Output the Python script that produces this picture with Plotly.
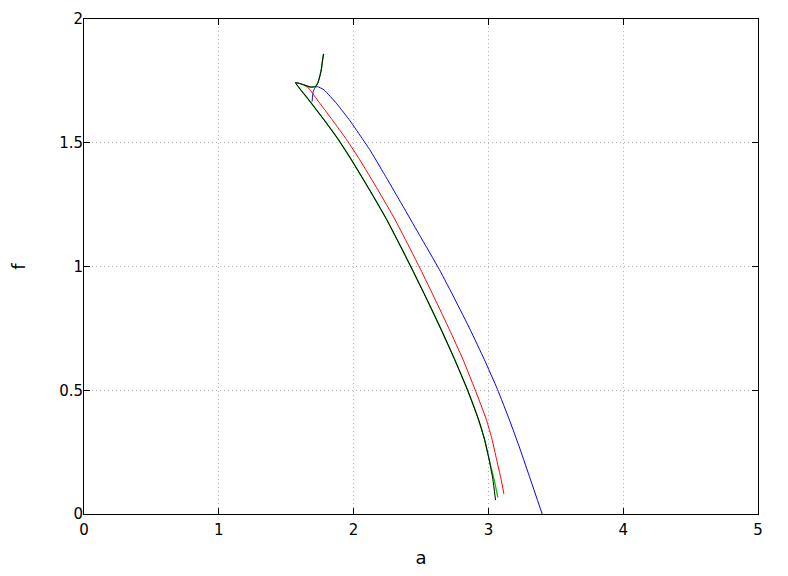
import plotly.graph_objects as go

# black curve (a, f)
black_a = [1.777, 1.768, 1.760, 1.748, 1.735, 1.718, 1.681, 1.631, 1.569,
           1.668, 1.780, 1.888, 1.984, 2.118, 2.245, 2.360, 2.435, 2.544,
           2.649, 2.749, 2.843, 2.926, 2.971, 3.005, 3.019, 3.033, 3.053]
black_f = [1.859, 1.827, 1.794, 1.766, 1.742, 1.727, 1.725, 1.734, 1.743,
           1.673, 1.593, 1.512, 1.431, 1.310, 1.190, 1.069, 0.988, 0.867,
           0.746, 0.625, 0.504, 0.383, 0.302, 0.222, 0.181, 0.141, 0.056]

# green curve (coincides with black, separates at the lower tail)
green_a = [1.777, 1.768, 1.760, 1.748, 1.735, 1.718, 1.681, 1.631, 1.569,
           1.668, 1.780, 1.888, 1.984, 2.118, 2.245, 2.360, 2.435, 2.544,
           2.649, 2.749, 2.843, 2.926, 2.971, 3.005, 3.023, 3.045, 3.070]
green_f = [1.859, 1.827, 1.794, 1.766, 1.742, 1.727, 1.725, 1.734, 1.743,
           1.673, 1.593, 1.512, 1.431, 1.310, 1.190, 1.069, 0.988, 0.867,
           0.746, 0.625, 0.504, 0.383, 0.302, 0.222, 0.181, 0.133, 0.067]

# red curve
red_a = [1.631, 1.668, 1.731, 1.841, 1.949, 2.046, 2.180, 2.307, 2.422,
         2.497, 2.605, 2.710, 2.811, 2.900, 2.984, 3.027, 3.060, 3.094, 3.115]
red_f = [1.734, 1.720, 1.673, 1.593, 1.512, 1.431, 1.310, 1.190, 1.069,
         0.988, 0.867, 0.746, 0.625, 0.504, 0.383, 0.302, 0.222, 0.141, 0.081]

# blue curve
blue_a = [1.692, 1.700, 1.713, 1.730, 1.780, 1.876, 1.973, 2.070, 2.120,
          2.230, 2.338, 2.487, 2.636, 2.752, 2.864, 2.969, 3.067, 3.154,
          3.235, 3.311, 3.399]
blue_f = [1.667, 1.706, 1.722, 1.727, 1.714, 1.657, 1.589, 1.512, 1.472,
          1.371, 1.270, 1.129, 0.988, 0.867, 0.746, 0.625, 0.504, 0.383,
          0.262, 0.141, 0.000]

x_ticks = [0, 1, 2, 3, 4, 5]
x_tick_labels = ["0", "1", "2", "3", "4", "5"]
y_ticks = [0, 0.5, 1, 1.5, 2]
y_tick_labels = ["0", "0.5", "1", "1.5", "2"]

fig = go.Figure()
line_common = dict(shape="spline", smoothing=0.4)
fig.add_trace(go.Scatter(x=blue_a, y=blue_f, mode="lines",
                         line=dict(color="#0000ff", width=1, **line_common)))
fig.add_trace(go.Scatter(x=red_a, y=red_f, mode="lines",
                         line=dict(color="#ff0000", width=1, **line_common)))
fig.add_trace(go.Scatter(x=green_a, y=green_f, mode="lines",
                         line=dict(color="#00c000", width=1.3, **line_common)))
fig.add_trace(go.Scatter(x=black_a, y=black_f, mode="lines",
                         line=dict(color="#000000", width=1, **line_common)))

font = dict(family="DejaVu Sans", size=15, color="#000000")

axis_common = dict(
    ticks="inside", ticklen=6, tickcolor="black",
    showline=True, linecolor="black", linewidth=1, mirror="ticks",
    showgrid=True, gridcolor="#b4b4b4", griddash="1px,3px", gridwidth=1,
    zeroline=False, automargin=False,
)

fig.update_layout(
    width=772, height=560,
    margin=dict(l=76, r=22, t=11, b=54),
    paper_bgcolor="white", plot_bgcolor="white",
    showlegend=False, font=font,
    xaxis=dict(range=[0, 5], tickvals=x_ticks, ticktext=x_tick_labels,
               ticklabelstandoff=2,
               title=dict(text="a", standoff=18), **axis_common),
    yaxis=dict(range=[0, 2], tickvals=y_ticks, ticktext=y_tick_labels,
               ticklabelstandoff=-3,
               title=dict(text="f", standoff=30), **axis_common),
)

fig.write_html("out.html")
